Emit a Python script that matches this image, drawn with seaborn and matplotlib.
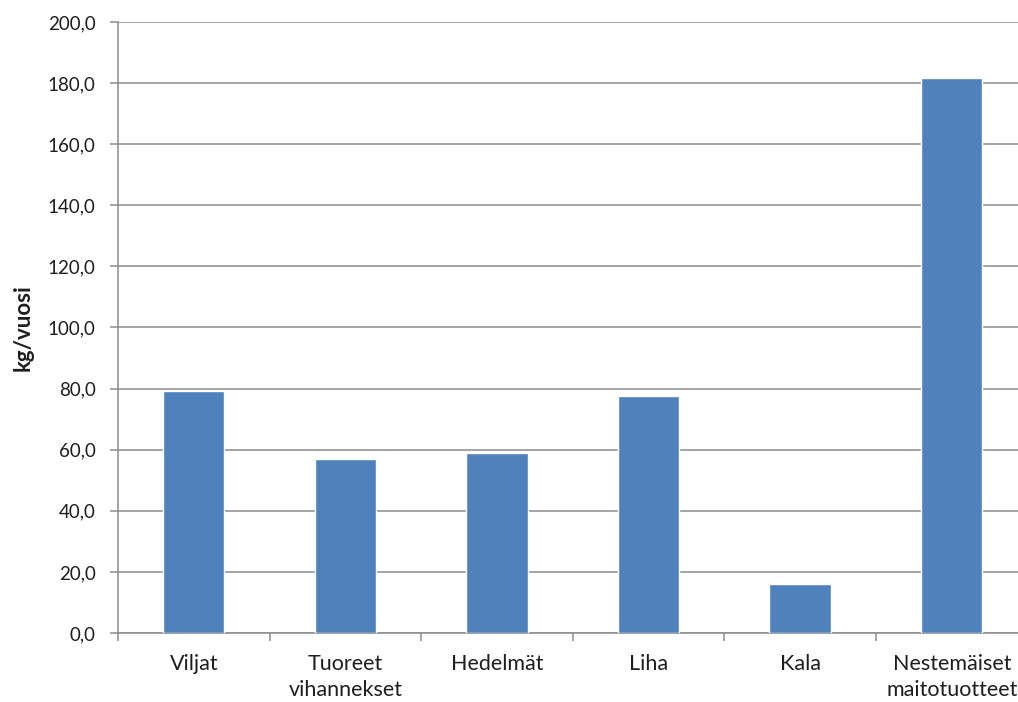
import matplotlib
matplotlib.use("Agg")
import matplotlib.pyplot as plt
import seaborn as sns
import pandas as pd
from matplotlib.ticker import FuncFormatter, FixedLocator

# Kulutus elintarvikeryhmittäin (kg/vuosi)
categories = ["Viljat", "Tuoreet\nvihannekset", "Hedelmät", "Liha", "Kala", "Nestemäiset\nmaitotuotteet"]
values = [79.1, 56.9, 58.8, 77.6, 16.0, 181.6]
y_ticks = [0, 20, 40, 60, 80, 100, 120, 140, 160, 180, 200]

sns.set_theme(style="white")
plt.rcParams["font.family"] = ["Lato", "DejaVu Sans"]

df = pd.DataFrame({"ryhma": categories, "kg": values})

fig = plt.figure(figsize=(10.18, 7.02), dpi=100)
# the plot area runs slightly past the right edge of the figure
ax = fig.add_axes([0.1159, 0.0983, 0.8935, 0.8704])

sns.barplot(data=df, x="ryhma", y="kg", color="#4F81BD", saturation=1,
            width=0.405, ax=ax, zorder=3)

ax.set_ylim(0, 200)
ax.set_xlim(-0.5, len(categories) - 0.5)
ax.yaxis.set_major_locator(FixedLocator(y_ticks))
ax.yaxis.set_major_formatter(FuncFormatter(lambda v, p: f"{v:.1f}".replace(".", ",")))
ax.yaxis.grid(True, color="#8c8c8c", linewidth=1.1, zorder=0)
ax.set_axisbelow(True)

for side in ["top", "right"]:
    ax.spines[side].set_visible(False)
for side in ["left", "bottom"]:
    ax.spines[side].set_color("#8c8c8c")
    ax.spines[side].set_linewidth(1.1)

# category boundary ticks on the x axis
ax.xaxis.set_minor_locator(FixedLocator([i - 0.5 for i in range(len(categories) + 1)]))
ax.tick_params(axis="x", which="major", length=0, pad=15, labelsize=15.5, colors="#1e1e1e")
ax.tick_params(axis="x", which="minor", bottom=True, length=6, width=1.1, color="#8c8c8c", direction="out")
ax.tick_params(axis="y", which="major", left=True, length=6, width=1.1, color="#8c8c8c",
               direction="out", pad=10, labelsize=13.5, labelcolor="#1e1e1e")

ax.set_xlabel("")
ax.set_ylabel("kg/vuosi", fontsize=16, fontweight="bold", color="#1e1e1e", labelpad=10)
for lbl in ax.get_xticklabels():
    lbl.set_linespacing(1.4)

fig.savefig("out.png", dpi=100)
